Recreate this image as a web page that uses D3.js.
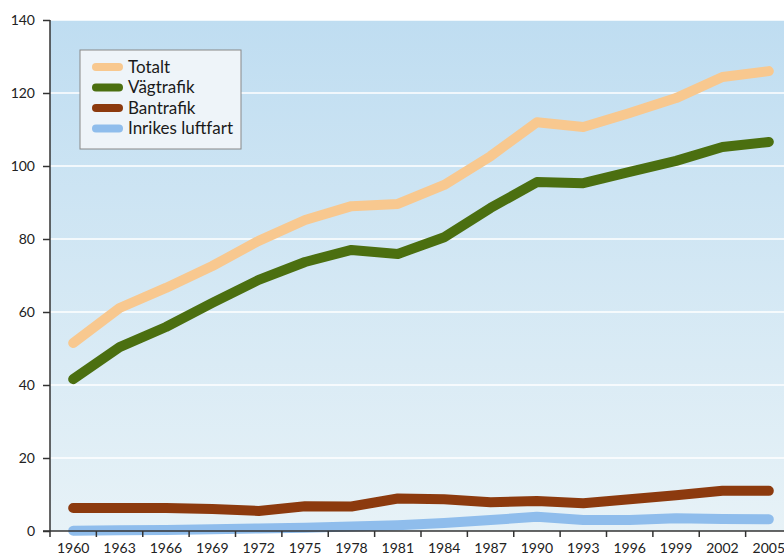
<!DOCTYPE html>
<html>
<head>
<meta charset="utf-8">
<script src="https://cdn.jsdelivr.net/npm/d3@7"></script>
<style>
  body { margin: 0; background: #fff; }
  svg { display: block; font-family: Lato, sans-serif; }
</style>
</head>
<body>
<div id="chart"></div>
<script>
const years = ['1960','1963','1966','1969','1972','1975','1978','1981','1984','1987','1990','1993','1996','1999','2002','2005']

const totalt   = [51.5, 61.1, 66.6, 72.6, 79.5, 85.2, 89.0, 89.6, 94.8, 102.7, 112.0, 110.7, 114.5, 118.6, 124.4, 126.0]
const vagtrafik = [41.6, 50.4, 55.9, 62.5, 68.8, 73.7, 77.0, 75.9, 80.5, 88.5, 95.6, 95.3, 98.4, 101.4, 105.2, 106.6]
const bantrafik = [6.3, 6.3, 6.3, 6.0, 5.5, 6.8, 6.7, 8.9, 8.7, 7.9, 8.2, 7.6, 8.7, 9.8, 11.0, 11.0]
const luftfart  = [0.1, 0.2, 0.3, 0.5, 0.7, 0.9, 1.2, 1.6, 2.2, 3.0, 3.9, 3.0, 3.0, 3.5, 3.3, 3.2]

const yTicks = [0, 20, 40, 60, 80, 100, 120, 140]

const series = [
    {name: 'Totalt', values: totalt, color: '#f8c88f'},
    {name: 'Vägtrafik', values: vagtrafik, color: '#4b6f10'},
    {name: 'Bantrafik', values: bantrafik, color: '#8c3a0e'},
    {name: 'Inrikes luftfart', values: luftfart, color: '#8fbdec'}
]

const width = 784, height = 557
const margin = {top: 20, right: -8, bottom: 26, left: 50}
const plotW = width - margin.left - margin.right
const plotH = height - margin.top - margin.bottom

const svg = d3.select('#chart').append('svg')
    .attr('width', width)
    .attr('height', height)

const defs = svg.append('defs')
const grad = defs.append('linearGradient')
    .attr('id', 'bg')
    .attr('x1', 0).attr('y1', 0).attr('x2', 0).attr('y2', 1)
grad.append('stop').attr('offset', '0%').attr('stop-color', '#bfddf1')
grad.append('stop').attr('offset', '100%').attr('stop-color', '#e7f2f7')

const graph = svg.append('g')
    .attr('transform', `translate(${margin.left}, ${margin.top})`)

const x = d3.scaleBand().domain(years).range([0, plotW]).padding(0)
const y = d3.scaleLinear().domain([0, 140]).range([plotH, 0])

graph.append('rect')
    .attr('width', plotW)
    .attr('height', plotH)
    .attr('fill', 'url(#bg)')

// gridlines
graph.append('g')
    .selectAll('line')
    .data(yTicks.slice(1))
    .enter().append('line')
        .attr('x1', 0)
        .attr('x2', plotW)
        .attr('y1', d => y(d))
        .attr('y2', d => y(d))
        .attr('stroke', '#fff')
        .attr('stroke-width', 1.5)

const line = d3.line()
    .x((d, i) => x(years[i]) + x.bandwidth() / 2)
    .y(d => y(d))

graph.selectAll('path.serie')
    .data(series.slice().reverse())
    .enter().append('path')
        .attr('class', 'serie')
        .attr('d', d => line(d.values))
        .attr('fill', 'none')
        .attr('stroke', d => d.color)
        .attr('stroke-width', 10)
        .attr('stroke-linecap', 'round')
        .attr('stroke-linejoin', 'round')

// axes
const yAxis = d3.axisLeft(y)
    .tickValues(yTicks)
    .tickSize(7)
    .tickPadding(8)

const yAxisGroup = graph.append('g').call(yAxis)
yAxisGroup.select('.domain').remove()
yAxisGroup.append('line')
    .attr('x1', 0).attr('x2', 0)
    .attr('y1', 0).attr('y2', plotH + 6)
    .attr('stroke', '#333')
    .attr('stroke-width', 1.5)

const xAxis = d3.axisBottom(x)
    .tickSize(0)
    .tickPadding(12)

const xAxisGroup = graph.append('g')
    .attr('transform', `translate(0, ${plotH})`)
    .call(xAxis)
xAxisGroup.select('.domain').remove()
xAxisGroup.append('line')
    .attr('x1', -7).attr('x2', plotW)
    .attr('stroke', '#333')
    .attr('stroke-width', 1.5)
xAxisGroup.selectAll('.bound')
    .data(years.slice(1))
    .enter().append('line')
        .attr('class', 'bound')
        .attr('x1', d => x(d))
        .attr('x2', d => x(d))
        .attr('y1', 0)
        .attr('y2', 6)
        .attr('stroke', '#333')
        .attr('stroke-width', 1.5)

svg.selectAll('.tick line').attr('stroke', '#333').attr('stroke-width', 1.5)
svg.selectAll('.tick text')
    .attr('fill', '#222')
    .style('font-size', '14px')
    .style('font-family', 'Lato, sans-serif')

// legend
const legend = graph.append('g')
    .attr('transform', 'translate(30, 30)')

legend.append('rect')
    .attr('width', 161)
    .attr('height', 99)
    .attr('fill', '#eef4f9')
    .attr('stroke', '#888')
    .attr('stroke-width', 1)

const items = legend.selectAll('g.item')
    .data(series)
    .enter().append('g')
        .attr('class', 'item')
        .attr('transform', (d, i) => `translate(0, ${17 + i * 20.5})`)

items.append('line')
    .attr('x1', 16).attr('x2', 39)
    .attr('stroke', d => d.color)
    .attr('stroke-width', 8)
    .attr('stroke-linecap', 'round')

items.append('text')
    .attr('x', 48)
    .attr('dy', '0.35em')
    .attr('fill', '#1a1a1a')
    .style('font-size', '17px')
    .text(d => d.name)
</script>
</body>
</html>
